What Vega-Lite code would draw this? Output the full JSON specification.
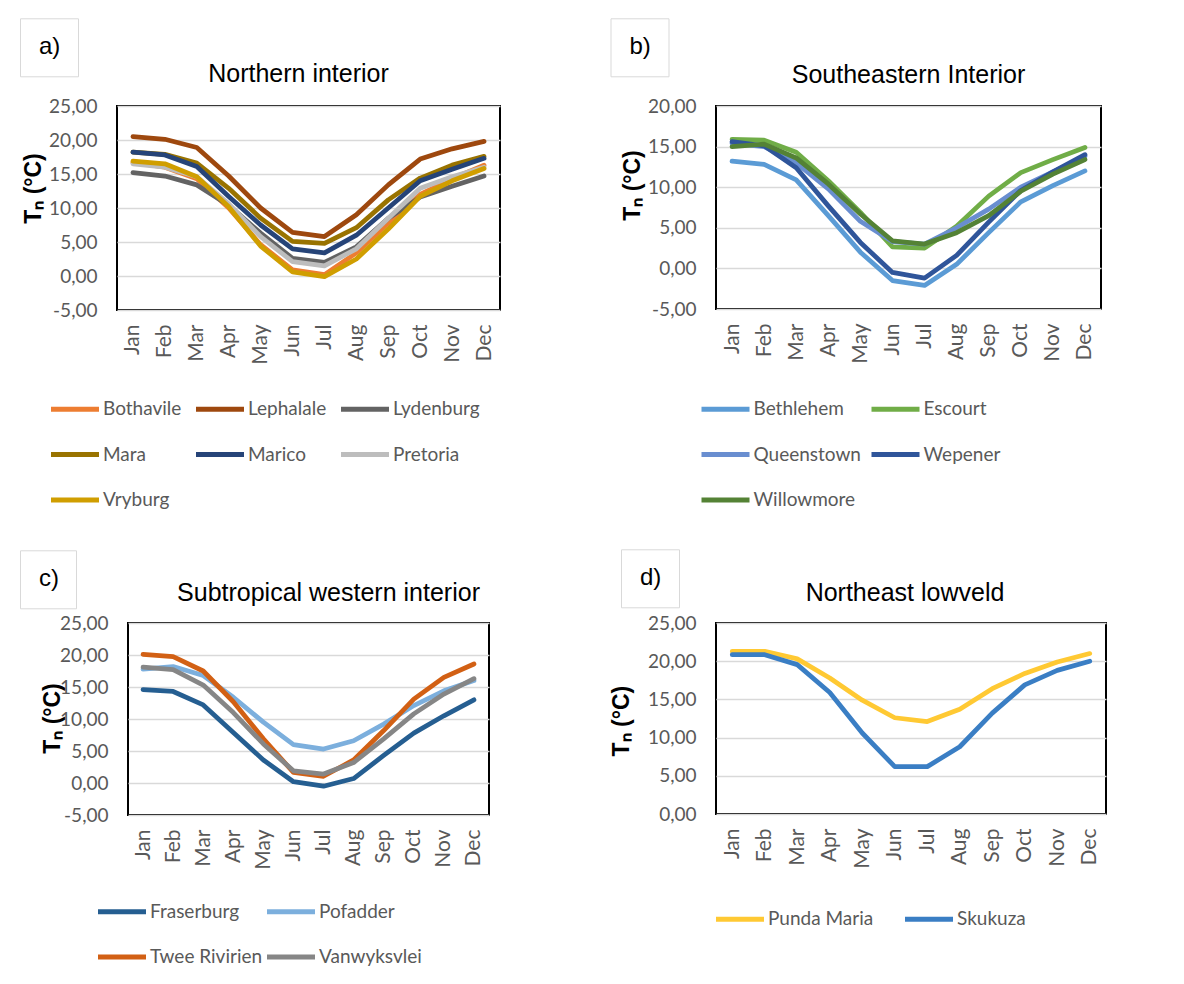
{
  "$schema": "https://vega.github.io/schema/vega-lite/v6.json",
  "background": "white",
  "padding": {"left": 18, "top": 16, "right": 0, "bottom": 0},
  "datasets": {
    "north": [
      {"panel": "a)", "station": "Bothavile", "month": "Jan", "tn": 16.7}, {"panel": "a)", "station": "Bothavile", "month": "Feb", "tn": 16.0}, {"panel": "a)", "station": "Bothavile", "month": "Mar", "tn": 14.3}, {"panel": "a)", "station": "Bothavile", "month": "Apr", "tn": 10.0}, {"panel": "a)", "station": "Bothavile", "month": "May", "tn": 4.6}, {"panel": "a)", "station": "Bothavile", "month": "Jun", "tn": 0.9}, {"panel": "a)", "station": "Bothavile", "month": "Jul", "tn": 0.2}, {"panel": "a)", "station": "Bothavile", "month": "Aug", "tn": 3.4}, {"panel": "a)", "station": "Bothavile", "month": "Sep", "tn": 7.8}, {"panel": "a)", "station": "Bothavile", "month": "Oct", "tn": 12.0}, {"panel": "a)", "station": "Bothavile", "month": "Nov", "tn": 14.3}, {"panel": "a)", "station": "Bothavile", "month": "Dec", "tn": 16.3},
      {"panel": "a)", "station": "Lephalale", "month": "Jan", "tn": 20.5}, {"panel": "a)", "station": "Lephalale", "month": "Feb", "tn": 20.1}, {"panel": "a)", "station": "Lephalale", "month": "Mar", "tn": 18.9}, {"panel": "a)", "station": "Lephalale", "month": "Apr", "tn": 14.7}, {"panel": "a)", "station": "Lephalale", "month": "May", "tn": 10.0}, {"panel": "a)", "station": "Lephalale", "month": "Jun", "tn": 6.4}, {"panel": "a)", "station": "Lephalale", "month": "Jul", "tn": 5.8}, {"panel": "a)", "station": "Lephalale", "month": "Aug", "tn": 9.0}, {"panel": "a)", "station": "Lephalale", "month": "Sep", "tn": 13.4}, {"panel": "a)", "station": "Lephalale", "month": "Oct", "tn": 17.2}, {"panel": "a)", "station": "Lephalale", "month": "Nov", "tn": 18.7}, {"panel": "a)", "station": "Lephalale", "month": "Dec", "tn": 19.8},
      {"panel": "a)", "station": "Lydenburg", "month": "Jan", "tn": 15.2}, {"panel": "a)", "station": "Lydenburg", "month": "Feb", "tn": 14.7}, {"panel": "a)", "station": "Lydenburg", "month": "Mar", "tn": 13.4}, {"panel": "a)", "station": "Lydenburg", "month": "Apr", "tn": 10.4}, {"panel": "a)", "station": "Lydenburg", "month": "May", "tn": 6.3}, {"panel": "a)", "station": "Lydenburg", "month": "Jun", "tn": 2.6}, {"panel": "a)", "station": "Lydenburg", "month": "Jul", "tn": 2.0}, {"panel": "a)", "station": "Lydenburg", "month": "Aug", "tn": 4.3}, {"panel": "a)", "station": "Lydenburg", "month": "Sep", "tn": 8.5}, {"panel": "a)", "station": "Lydenburg", "month": "Oct", "tn": 11.6}, {"panel": "a)", "station": "Lydenburg", "month": "Nov", "tn": 13.2}, {"panel": "a)", "station": "Lydenburg", "month": "Dec", "tn": 14.7},
      {"panel": "a)", "station": "Mara", "month": "Jan", "tn": 18.2}, {"panel": "a)", "station": "Mara", "month": "Feb", "tn": 17.9}, {"panel": "a)", "station": "Mara", "month": "Mar", "tn": 16.6}, {"panel": "a)", "station": "Mara", "month": "Apr", "tn": 12.9}, {"panel": "a)", "station": "Mara", "month": "May", "tn": 8.5}, {"panel": "a)", "station": "Mara", "month": "Jun", "tn": 5.1}, {"panel": "a)", "station": "Mara", "month": "Jul", "tn": 4.8}, {"panel": "a)", "station": "Mara", "month": "Aug", "tn": 7.1}, {"panel": "a)", "station": "Mara", "month": "Sep", "tn": 11.2}, {"panel": "a)", "station": "Mara", "month": "Oct", "tn": 14.4}, {"panel": "a)", "station": "Mara", "month": "Nov", "tn": 16.3}, {"panel": "a)", "station": "Mara", "month": "Dec", "tn": 17.6},
      {"panel": "a)", "station": "Marico", "month": "Jan", "tn": 18.2}, {"panel": "a)", "station": "Marico", "month": "Feb", "tn": 17.8}, {"panel": "a)", "station": "Marico", "month": "Mar", "tn": 16.1}, {"panel": "a)", "station": "Marico", "month": "Apr", "tn": 11.7}, {"panel": "a)", "station": "Marico", "month": "May", "tn": 7.5}, {"panel": "a)", "station": "Marico", "month": "Jun", "tn": 4.0}, {"panel": "a)", "station": "Marico", "month": "Jul", "tn": 3.4}, {"panel": "a)", "station": "Marico", "month": "Aug", "tn": 6.0}, {"panel": "a)", "station": "Marico", "month": "Sep", "tn": 10.0}, {"panel": "a)", "station": "Marico", "month": "Oct", "tn": 14.0}, {"panel": "a)", "station": "Marico", "month": "Nov", "tn": 15.7}, {"panel": "a)", "station": "Marico", "month": "Dec", "tn": 17.3},
      {"panel": "a)", "station": "Pretoria", "month": "Jan", "tn": 16.5}, {"panel": "a)", "station": "Pretoria", "month": "Feb", "tn": 16.0}, {"panel": "a)", "station": "Pretoria", "month": "Mar", "tn": 14.6}, {"panel": "a)", "station": "Pretoria", "month": "Apr", "tn": 10.6}, {"panel": "a)", "station": "Pretoria", "month": "May", "tn": 5.8}, {"panel": "a)", "station": "Pretoria", "month": "Jun", "tn": 2.1}, {"panel": "a)", "station": "Pretoria", "month": "Jul", "tn": 1.5}, {"panel": "a)", "station": "Pretoria", "month": "Aug", "tn": 4.0}, {"panel": "a)", "station": "Pretoria", "month": "Sep", "tn": 8.5}, {"panel": "a)", "station": "Pretoria", "month": "Oct", "tn": 12.9}, {"panel": "a)", "station": "Pretoria", "month": "Nov", "tn": 14.6}, {"panel": "a)", "station": "Pretoria", "month": "Dec", "tn": 16.0},
      {"panel": "a)", "station": "Vryburg", "month": "Jan", "tn": 16.9}, {"panel": "a)", "station": "Vryburg", "month": "Feb", "tn": 16.5}, {"panel": "a)", "station": "Vryburg", "month": "Mar", "tn": 14.6}, {"panel": "a)", "station": "Vryburg", "month": "Apr", "tn": 10.2}, {"panel": "a)", "station": "Vryburg", "month": "May", "tn": 4.4}, {"panel": "a)", "station": "Vryburg", "month": "Jun", "tn": 0.6}, {"panel": "a)", "station": "Vryburg", "month": "Jul", "tn": -0.1}, {"panel": "a)", "station": "Vryburg", "month": "Aug", "tn": 2.5}, {"panel": "a)", "station": "Vryburg", "month": "Sep", "tn": 6.9}, {"panel": "a)", "station": "Vryburg", "month": "Oct", "tn": 11.7}, {"panel": "a)", "station": "Vryburg", "month": "Nov", "tn": 14.0}, {"panel": "a)", "station": "Vryburg", "month": "Dec", "tn": 15.8}
    ],
    "southeast": [
      {"panel": "b)", "station": "Bethlehem", "month": "Jan", "tn": 13.2}, {"panel": "b)", "station": "Bethlehem", "month": "Feb", "tn": 12.8}, {"panel": "b)", "station": "Bethlehem", "month": "Mar", "tn": 10.9}, {"panel": "b)", "station": "Bethlehem", "month": "Apr", "tn": 6.5}, {"panel": "b)", "station": "Bethlehem", "month": "May", "tn": 2.0}, {"panel": "b)", "station": "Bethlehem", "month": "Jun", "tn": -1.5}, {"panel": "b)", "station": "Bethlehem", "month": "Jul", "tn": -2.1}, {"panel": "b)", "station": "Bethlehem", "month": "Aug", "tn": 0.5}, {"panel": "b)", "station": "Bethlehem", "month": "Sep", "tn": 4.4}, {"panel": "b)", "station": "Bethlehem", "month": "Oct", "tn": 8.2}, {"panel": "b)", "station": "Bethlehem", "month": "Nov", "tn": 10.2}, {"panel": "b)", "station": "Bethlehem", "month": "Dec", "tn": 12.0},
      {"panel": "b)", "station": "Escourt", "month": "Jan", "tn": 15.9}, {"panel": "b)", "station": "Escourt", "month": "Feb", "tn": 15.8}, {"panel": "b)", "station": "Escourt", "month": "Mar", "tn": 14.3}, {"panel": "b)", "station": "Escourt", "month": "Apr", "tn": 10.8}, {"panel": "b)", "station": "Escourt", "month": "May", "tn": 6.9}, {"panel": "b)", "station": "Escourt", "month": "Jun", "tn": 2.65}, {"panel": "b)", "station": "Escourt", "month": "Jul", "tn": 2.5}, {"panel": "b)", "station": "Escourt", "month": "Aug", "tn": 5.2}, {"panel": "b)", "station": "Escourt", "month": "Sep", "tn": 8.9}, {"panel": "b)", "station": "Escourt", "month": "Oct", "tn": 11.8}, {"panel": "b)", "station": "Escourt", "month": "Nov", "tn": 13.4}, {"panel": "b)", "station": "Escourt", "month": "Dec", "tn": 14.9},
      {"panel": "b)", "station": "Queenstown", "month": "Jan", "tn": 15.4}, {"panel": "b)", "station": "Queenstown", "month": "Feb", "tn": 15.0}, {"panel": "b)", "station": "Queenstown", "month": "Mar", "tn": 13.0}, {"panel": "b)", "station": "Queenstown", "month": "Apr", "tn": 9.8}, {"panel": "b)", "station": "Queenstown", "month": "May", "tn": 5.8}, {"panel": "b)", "station": "Queenstown", "month": "Jun", "tn": 3.3}, {"panel": "b)", "station": "Queenstown", "month": "Jul", "tn": 3.0}, {"panel": "b)", "station": "Queenstown", "month": "Aug", "tn": 5.0}, {"panel": "b)", "station": "Queenstown", "month": "Sep", "tn": 7.3}, {"panel": "b)", "station": "Queenstown", "month": "Oct", "tn": 10.0}, {"panel": "b)", "station": "Queenstown", "month": "Nov", "tn": 11.9}, {"panel": "b)", "station": "Queenstown", "month": "Dec", "tn": 13.8},
      {"panel": "b)", "station": "Wepener", "month": "Jan", "tn": 15.6}, {"panel": "b)", "station": "Wepener", "month": "Feb", "tn": 15.1}, {"panel": "b)", "station": "Wepener", "month": "Mar", "tn": 12.4}, {"panel": "b)", "station": "Wepener", "month": "Apr", "tn": 7.7}, {"panel": "b)", "station": "Wepener", "month": "May", "tn": 3.2}, {"panel": "b)", "station": "Wepener", "month": "Jun", "tn": -0.5}, {"panel": "b)", "station": "Wepener", "month": "Jul", "tn": -1.2}, {"panel": "b)", "station": "Wepener", "month": "Aug", "tn": 1.6}, {"panel": "b)", "station": "Wepener", "month": "Sep", "tn": 5.7}, {"panel": "b)", "station": "Wepener", "month": "Oct", "tn": 9.6}, {"panel": "b)", "station": "Wepener", "month": "Nov", "tn": 11.9}, {"panel": "b)", "station": "Wepener", "month": "Dec", "tn": 14.0},
      {"panel": "b)", "station": "Willowmore", "month": "Jan", "tn": 15.0}, {"panel": "b)", "station": "Willowmore", "month": "Feb", "tn": 15.3}, {"panel": "b)", "station": "Willowmore", "month": "Mar", "tn": 13.6}, {"panel": "b)", "station": "Willowmore", "month": "Apr", "tn": 10.4}, {"panel": "b)", "station": "Willowmore", "month": "May", "tn": 6.7}, {"panel": "b)", "station": "Willowmore", "month": "Jun", "tn": 3.4}, {"panel": "b)", "station": "Willowmore", "month": "Jul", "tn": 3.0}, {"panel": "b)", "station": "Willowmore", "month": "Aug", "tn": 4.4}, {"panel": "b)", "station": "Willowmore", "month": "Sep", "tn": 6.5}, {"panel": "b)", "station": "Willowmore", "month": "Oct", "tn": 9.5}, {"panel": "b)", "station": "Willowmore", "month": "Nov", "tn": 11.6}, {"panel": "b)", "station": "Willowmore", "month": "Dec", "tn": 13.4}
    ],
    "west": [
      {"panel": "c)", "station": "Fraserburg", "month": "Jan", "tn": 14.6}, {"panel": "c)", "station": "Fraserburg", "month": "Feb", "tn": 14.3}, {"panel": "c)", "station": "Fraserburg", "month": "Mar", "tn": 12.2}, {"panel": "c)", "station": "Fraserburg", "month": "Apr", "tn": 7.9}, {"panel": "c)", "station": "Fraserburg", "month": "May", "tn": 3.6}, {"panel": "c)", "station": "Fraserburg", "month": "Jun", "tn": 0.2}, {"panel": "c)", "station": "Fraserburg", "month": "Jul", "tn": -0.5}, {"panel": "c)", "station": "Fraserburg", "month": "Aug", "tn": 0.7}, {"panel": "c)", "station": "Fraserburg", "month": "Sep", "tn": 4.3}, {"panel": "c)", "station": "Fraserburg", "month": "Oct", "tn": 7.8}, {"panel": "c)", "station": "Fraserburg", "month": "Nov", "tn": 10.5}, {"panel": "c)", "station": "Fraserburg", "month": "Dec", "tn": 13.0},
      {"panel": "c)", "station": "Pofadder", "month": "Jan", "tn": 17.8}, {"panel": "c)", "station": "Pofadder", "month": "Feb", "tn": 18.2}, {"panel": "c)", "station": "Pofadder", "month": "Mar", "tn": 16.8}, {"panel": "c)", "station": "Pofadder", "month": "Apr", "tn": 13.4}, {"panel": "c)", "station": "Pofadder", "month": "May", "tn": 9.5}, {"panel": "c)", "station": "Pofadder", "month": "Jun", "tn": 6.0}, {"panel": "c)", "station": "Pofadder", "month": "Jul", "tn": 5.3}, {"panel": "c)", "station": "Pofadder", "month": "Aug", "tn": 6.6}, {"panel": "c)", "station": "Pofadder", "month": "Sep", "tn": 9.2}, {"panel": "c)", "station": "Pofadder", "month": "Oct", "tn": 12.1}, {"panel": "c)", "station": "Pofadder", "month": "Nov", "tn": 14.4}, {"panel": "c)", "station": "Pofadder", "month": "Dec", "tn": 16.0},
      {"panel": "c)", "station": "Twee Rivirien", "month": "Jan", "tn": 20.1}, {"panel": "c)", "station": "Twee Rivirien", "month": "Feb", "tn": 19.75}, {"panel": "c)", "station": "Twee Rivirien", "month": "Mar", "tn": 17.5}, {"panel": "c)", "station": "Twee Rivirien", "month": "Apr", "tn": 12.7}, {"panel": "c)", "station": "Twee Rivirien", "month": "May", "tn": 6.9}, {"panel": "c)", "station": "Twee Rivirien", "month": "Jun", "tn": 1.65}, {"panel": "c)", "station": "Twee Rivirien", "month": "Jul", "tn": 1.05}, {"panel": "c)", "station": "Twee Rivirien", "month": "Aug", "tn": 3.6}, {"panel": "c)", "station": "Twee Rivirien", "month": "Sep", "tn": 8.2}, {"panel": "c)", "station": "Twee Rivirien", "month": "Oct", "tn": 13.1}, {"panel": "c)", "station": "Twee Rivirien", "month": "Nov", "tn": 16.5}, {"panel": "c)", "station": "Twee Rivirien", "month": "Dec", "tn": 18.6},
      {"panel": "c)", "station": "Vanwyksvlei", "month": "Jan", "tn": 18.1}, {"panel": "c)", "station": "Vanwyksvlei", "month": "Feb", "tn": 17.7}, {"panel": "c)", "station": "Vanwyksvlei", "month": "Mar", "tn": 15.3}, {"panel": "c)", "station": "Vanwyksvlei", "month": "Apr", "tn": 11.0}, {"panel": "c)", "station": "Vanwyksvlei", "month": "May", "tn": 6.1}, {"panel": "c)", "station": "Vanwyksvlei", "month": "Jun", "tn": 1.9}, {"panel": "c)", "station": "Vanwyksvlei", "month": "Jul", "tn": 1.4}, {"panel": "c)", "station": "Vanwyksvlei", "month": "Aug", "tn": 3.2}, {"panel": "c)", "station": "Vanwyksvlei", "month": "Sep", "tn": 6.9}, {"panel": "c)", "station": "Vanwyksvlei", "month": "Oct", "tn": 10.8}, {"panel": "c)", "station": "Vanwyksvlei", "month": "Nov", "tn": 13.9}, {"panel": "c)", "station": "Vanwyksvlei", "month": "Dec", "tn": 16.3}
    ],
    "lowveld": [
      {"panel": "d)", "station": "Punda Maria", "month": "Jan", "tn": 21.3}, {"panel": "d)", "station": "Punda Maria", "month": "Feb", "tn": 21.3}, {"panel": "d)", "station": "Punda Maria", "month": "Mar", "tn": 20.3}, {"panel": "d)", "station": "Punda Maria", "month": "Apr", "tn": 17.8}, {"panel": "d)", "station": "Punda Maria", "month": "May", "tn": 14.9}, {"panel": "d)", "station": "Punda Maria", "month": "Jun", "tn": 12.6}, {"panel": "d)", "station": "Punda Maria", "month": "Jul", "tn": 12.1}, {"panel": "d)", "station": "Punda Maria", "month": "Aug", "tn": 13.7}, {"panel": "d)", "station": "Punda Maria", "month": "Sep", "tn": 16.4}, {"panel": "d)", "station": "Punda Maria", "month": "Oct", "tn": 18.4}, {"panel": "d)", "station": "Punda Maria", "month": "Nov", "tn": 19.9}, {"panel": "d)", "station": "Punda Maria", "month": "Dec", "tn": 21.0},
      {"panel": "d)", "station": "Skukuza", "month": "Jan", "tn": 20.85}, {"panel": "d)", "station": "Skukuza", "month": "Feb", "tn": 20.85}, {"panel": "d)", "station": "Skukuza", "month": "Mar", "tn": 19.55}, {"panel": "d)", "station": "Skukuza", "month": "Apr", "tn": 15.9}, {"panel": "d)", "station": "Skukuza", "month": "May", "tn": 10.6}, {"panel": "d)", "station": "Skukuza", "month": "Jun", "tn": 6.2}, {"panel": "d)", "station": "Skukuza", "month": "Jul", "tn": 6.2}, {"panel": "d)", "station": "Skukuza", "month": "Aug", "tn": 8.8}, {"panel": "d)", "station": "Skukuza", "month": "Sep", "tn": 13.2}, {"panel": "d)", "station": "Skukuza", "month": "Oct", "tn": 16.9}, {"panel": "d)", "station": "Skukuza", "month": "Nov", "tn": 18.8}, {"panel": "d)", "station": "Skukuza", "month": "Dec", "tn": 20.0}
    ]
  },
  "resolve": {"scale": {"x": "independent", "y": "independent", "color": "independent", "strokeWidth": "independent"}, "legend": {"color": "independent", "strokeWidth": "independent"}},
  "columns": 2,
  "align": "each",
  "center": {"row": false, "column": true},
  "spacing": {"row": 35, "column": 107},
  "concat": [
    {
      "width": 383, "height": 204,
      "data": {"name": "north"},
      "title": {"text": "Northern interior", "dx": -10, "offset": -69},
      "mark": {"type": "line"},
      "encoding": {
        "x": {"field": "month", "type": "ordinal", "sort": ["Jan", "Feb", "Mar", "Apr", "May", "Jun", "Jul", "Aug", "Sep", "Oct", "Nov", "Dec"], "axis": {"title": null}},
        "y": {"field": "tn", "type": "quantitative", "scale": {"domain": [-5, 25], "nice": false, "zero": false}, "axis": {"values": [-5, 0, 5, 10, 15, 20, 25], "title": "Tₙ (°C)", "titleX": -71.7, "titleY": 82}},
        "color": {"field": "station", "type": "nominal", "scale": {"domain": ["Bothavile", "Lephalale", "Lydenburg", "Mara", "Marico", "Pretoria", "Vryburg"], "range": ["#ED7D31", "#9E480E", "#636363", "#997300", "#264478", "#BDBDBD", "#D09E00"]}, "legend": {"legendX": -68.5, "legendY": 276.5, "columns": 3, "columnPadding": 3}},
        "strokeWidth": {"field": "panel", "type": "ordinal", "scale": {"type": "ordinal", "range": [4.75]}, "legend": {"legendX": -97, "legendY": -87.7, "symbolType": "circle", "symbolOpacity": 0, "symbolSize": 1, "symbolStrokeWidth": 0, "labelOffset": -22, "labelFont": "Liberation Sans", "labelFontSize": 24, "labelColor": "#000000", "padding": 17, "strokeColor": "#d9d9d9", "encode": {"legend": {"update": {"strokeWidth": {"value": 2}}}}}}
      }
    },
    {
      "width": 385, "height": 203,
      "data": {"name": "southeast"},
      "title": {"text": "Southeastern Interior", "dx": 0, "offset": -70},
      "mark": {"type": "line"},
      "encoding": {
        "x": {"field": "month", "type": "ordinal", "sort": ["Jan", "Feb", "Mar", "Apr", "May", "Jun", "Jul", "Aug", "Sep", "Oct", "Nov", "Dec"], "axis": {"title": null}},
        "y": {"field": "tn", "type": "quantitative", "scale": {"domain": [-5, 20], "nice": false, "zero": false}, "axis": {"values": [-5, 0, 5, 10, 15, 20], "title": "Tₙ (°C)", "titleX": -71.5, "titleY": 79}},
        "color": {"field": "station", "type": "nominal", "scale": {"domain": ["Bethlehem", "Escourt", "Queenstown", "Wepener", "Willowmore"], "range": ["#5B9BD5", "#70AD47", "#698ED0", "#2F559A", "#548235"]}, "legend": {"legendX": -17, "legendY": 276.5, "columns": 2, "columnPadding": 8}},
        "strokeWidth": {"field": "panel", "type": "ordinal", "scale": {"type": "ordinal", "range": [4.75]}, "legend": {"legendX": -105.5, "legendY": -87.7, "symbolType": "circle", "symbolOpacity": 0, "symbolSize": 1, "symbolStrokeWidth": 0, "labelOffset": -22, "labelFont": "Liberation Sans", "labelFontSize": 24, "labelColor": "#000000", "padding": 17, "strokeColor": "#d9d9d9", "encode": {"legend": {"update": {"strokeWidth": {"value": 2}}}}}}
      }
    },
    {
      "width": 361, "height": 192,
      "data": {"name": "west"},
      "title": {"text": "Subtropical western interior", "dx": 20, "offset": -56},
      "mark": {"type": "line"},
      "encoding": {
        "x": {"field": "month", "type": "ordinal", "sort": ["Jan", "Feb", "Mar", "Apr", "May", "Jun", "Jul", "Aug", "Sep", "Oct", "Nov", "Dec"], "axis": {"title": null}},
        "y": {"field": "tn", "type": "quantitative", "scale": {"domain": [-5, 25], "nice": false, "zero": false}, "axis": {"values": [-5, 0, 5, 10, 15, 20, 25], "title": "Tₙ (°C)", "titleX": -64, "titleY": 95}},
        "color": {"field": "station", "type": "nominal", "scale": {"domain": ["Fraserburg", "Pofadder", "Twee Rivirien", "Vanwyksvlei"], "range": ["#255E91", "#7CAFDD", "#D26014", "#868686"]}, "legend": {"legendX": -32.5, "legendY": 262, "columns": 2, "columnPadding": 2}},
        "strokeWidth": {"field": "panel", "type": "ordinal", "scale": {"type": "ordinal", "range": [4.75]}, "legend": {"legendX": -108, "legendY": -72.7, "symbolType": "circle", "symbolOpacity": 0, "symbolSize": 1, "symbolStrokeWidth": 0, "labelOffset": -22, "labelFont": "Liberation Sans", "labelFontSize": 24, "labelColor": "#000000", "padding": 17, "strokeColor": "#d9d9d9", "encode": {"legend": {"update": {"strokeWidth": {"value": 2}}}}}}
      }
    },
    {
      "width": 390, "height": 191,
      "data": {"name": "lowveld"},
      "title": {"text": "Northeast lowveld", "dx": -6, "offset": -57},
      "mark": {"type": "line"},
      "encoding": {
        "x": {"field": "month", "type": "ordinal", "sort": ["Jan", "Feb", "Mar", "Apr", "May", "Jun", "Jul", "Aug", "Sep", "Oct", "Nov", "Dec"], "axis": {"title": null}},
        "y": {"field": "tn", "type": "quantitative", "scale": {"domain": [0, 25], "nice": false, "zero": false}, "axis": {"values": [0, 5, 10, 15, 20, 25], "title": "Tₙ (°C)", "titleX": -83, "titleY": 97.6}},
        "color": {"field": "station", "type": "nominal", "scale": {"domain": ["Punda Maria", "Skukuza"], "range": ["#FFC933", "#3A7EC4"]}, "legend": {"legendX": -2.5, "legendY": 269.6, "columns": 2, "columnPadding": 29}},
        "strokeWidth": {"field": "panel", "type": "ordinal", "scale": {"type": "ordinal", "range": [4.75]}, "legend": {"legendX": -95, "legendY": -73.7, "symbolType": "circle", "symbolOpacity": 0, "symbolSize": 1, "symbolStrokeWidth": 0, "labelOffset": -22, "labelFont": "Liberation Sans", "labelFontSize": 24, "labelColor": "#000000", "padding": 17, "strokeColor": "#d9d9d9", "encode": {"legend": {"update": {"strokeWidth": {"value": 2}}}}}}
      }
    }
  ],
  "config": {
    "font": "Liberation Sans",
    "view": {"stroke": "#000000", "strokeWidth": 2},
    "line": {"strokeCap": "round", "strokeJoin": "round"},
    "title": {"font": "Liberation Sans", "fontSize": 25, "fontWeight": "normal", "color": "#000000", "anchor": "middle", "frame": "group", "baseline": "alphabetic"},
    "axis": {
      "labelFont": "Lato", "labelFontSize": 19, "labelColor": "#595959",
      "ticks": false, "tickSize": 0, "domain": false,
      "gridColor": "#d9d9d9", "gridWidth": 1.5,
      "titleFont": "Liberation Sans", "titleFontSize": 23, "titleFontWeight": "bold", "titleColor": "#000000"
    },
    "axisX": {"grid": false, "labelAngle": -90, "labelPadding": 14, "labelFontSize": 21},
    "axisY": {"grid": true, "labelPadding": 20, "titleAngle": -90, "titleBaseline": "bottom", "titleAlign": "center",
      "labelExpr": "replace(replace(format(datum.value, '.2f'), '.', ','), '\u2212', '-')"},
    "legend": {
      "orient": "none", "title": null, "padding": 0, "direction": "horizontal",
      "labelFont": "Lato", "labelFontSize": 19, "labelColor": "#595959",
      "symbolType": "stroke", "symbolSize": 2304, "symbolStrokeWidth": 5,
      "labelOffset": 1.5, "rowPadding": 8.5, "gridAlign": "all"
    }
  }
}
